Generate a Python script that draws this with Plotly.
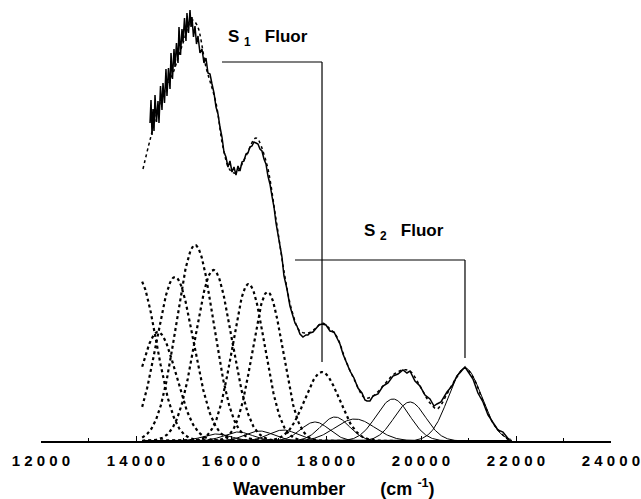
import numpy as np
import plotly.graph_objects as go

# ---------------- data ----------------
# experimental emission spectrum (wavenumber, intensity in arbitrary units)
exp_wn = [14295, 14316, 14337, 14358, 14379, 14400, 14432, 14463, 14484, 14516,
          14547, 14568, 14600, 14631, 14652, 14684, 14716, 14737, 14768, 14800,
          14821, 14852, 14884, 14905, 14937, 14968, 14989, 15021, 15052, 15073,
          15105, 15137, 15158, 15179, 15210, 15242, 15274, 15305, 15347, 15389,
          15431, 15473, 15515, 15558, 15600, 15642, 15684, 15726, 15768, 15810,
          15852, 15894, 15936, 15978, 16021, 16063, 16105, 16147, 16189, 16231,
          16273, 16315, 16357, 16399, 16441, 16484, 16526, 16568, 16610, 16652,
          16694, 16736, 16778, 16820, 16862, 16905, 16947, 16989, 17031, 17073,
          17115, 17178, 17241, 17284, 17347, 17389, 17452, 17515, 17578, 17620,
          17662, 17726, 17789, 17852, 17915, 18000, 18084, 18168, 18231, 18294,
          18357, 18420, 18505, 18589, 18673, 18757, 18820, 18862, 18925, 18989,
          19094, 19200, 19305, 19410, 19515, 19620, 19704, 19768, 19873, 19978,
          20084, 20189, 20273, 20336, 20420, 20547, 20652, 20757, 20841, 20926,
          21010, 21094, 21199, 21305, 21410, 21515, 21620, 21726, 21831, 21873]
exp_int = [318, 341, 306, 332, 310, 346, 319, 340, 318, 355,
           331, 358, 338, 372, 345, 373, 352, 388, 362, 392,
           374, 398, 378, 414, 386, 412, 399, 423, 400, 428,
           408, 431, 414, 424, 404, 415, 397, 405, 388, 392,
           378, 383, 368, 367, 357, 348, 334, 327, 314, 304,
           289, 284, 274, 280, 269, 274, 266, 275, 270, 279,
           280, 287, 288, 294, 295, 299, 298, 297, 292, 290,
           282, 277, 265, 257, 245, 234, 218, 207, 192, 184,
           165, 152, 135, 129, 118, 115, 107, 104, 106, 106,
           108, 109, 112, 116, 117, 116, 110, 109, 103, 97,
           87, 80, 70, 63, 53, 48, 41, 40, 40, 45,
           47, 55, 58, 65, 67, 71, 68, 70, 60, 55,
           46, 42, 35, 37, 39, 49, 55, 65, 69, 74,
           68, 62, 48, 39, 26, 19, 11, 9, 3, 0]

# total fit (dotted)
fit_wn = [14147, 14295, 14505, 14779, 14989, 15179, 15284, 15473, 15684, 15831,
          15978, 16105, 16315, 16526, 16736, 16947, 17115, 17284, 17452, 17620,
          17789, 17915, 18084, 18231, 18420, 18589, 18820, 18989, 19200, 19410,
          19620, 19768, 19978, 20189, 20336, 20420, 20547, 20757, 20926, 21094,
          21305, 21515, 21726, 21873]
fit_int = [272, 301, 338, 368, 398, 421, 416, 374, 338, 294,
           271, 268, 285, 303, 280, 222, 170, 130, 110, 108,
           113, 118, 112, 104, 80, 62, 43, 45, 55, 66,
           71, 70, 55, 38, 32, 36, 47, 64, 73, 64,
           40, 18, 6, 0]

# S1 vibronic components (dotted Gaussians): centre, height, width (sigma)
s1_center = [14050, 14463, 14821, 15242, 15630, 16370, 16770, 17916]
s1_height = [163, 109, 164, 196, 171, 157, 149, 69]
s1_sigma = [380, 380, 390, 390, 380, 340, 320, 360]

# S2 vibronic components (solid Gaussians): centre, height, width (sigma)
s2_center = [15700, 16150, 16600, 17100, 17768, 18190, 18610, 19410, 19768, 20926]
s2_height = [7, 9, 10, 11, 19, 24, 22, 42, 39, 73]
s2_sigma = [300, 300, 300, 300, 300, 300, 420, 350, 330, 350]

component_range = [14130, 21900]

tick_values = [12000, 14000, 16000, 18000, 20000, 22000, 24000]
tick_labels = ["12000", "14000", "16000", "18000", "20000", "22000", "24000"]

# ---------------- figure ----------------
FONT = "Liberation Sans, Arial, Helvetica, sans-serif"
fig = go.Figure()

grid = np.linspace(component_range[0], component_range[1], 600)

def gauss(c, h, s):
    return h * np.exp(-((grid - c) ** 2) / (2.0 * s ** 2))

for c, h, s in zip(s2_center, s2_height, s2_sigma):
    fig.add_trace(go.Scatter(x=grid, y=gauss(c, h, s), mode="lines",
                             line=dict(color="black", width=1),
                             hoverinfo="skip", showlegend=False))

for c, h, s in zip(s1_center, s1_height, s1_sigma):
    fig.add_trace(go.Scatter(x=grid, y=gauss(c, h, s), mode="lines",
                             line=dict(color="black", width=2.2, dash="dot"),
                             hoverinfo="skip", showlegend=False))

fig.add_trace(go.Scatter(x=fit_wn, y=fit_int, mode="lines",
                         line=dict(color="black", width=1.5, dash="dot", shape="spline"),
                         showlegend=False))
fig.add_trace(go.Scatter(x=exp_wn, y=exp_int, mode="lines",
                         line=dict(color="black", width=1.5),
                         showlegend=False))

# brackets marking the S1 and S2 fluorescence origins
s1_origin = s1_center[-1]
s2_origin = s2_center[-1]
bracket_style = dict(color="black", width=1.2)
fig.add_shape(type="line", x0=15810, x1=s1_origin, y0=379, y1=379, line=bracket_style)
fig.add_shape(type="line", x0=s1_origin, x1=s1_origin, y0=379, y1=79, line=bracket_style)
fig.add_shape(type="line", x0=17347, x1=s2_origin, y0=181, y1=181, line=bracket_style)
fig.add_shape(type="line", x0=s2_origin, x1=s2_origin, y0=181, y1=83, line=bracket_style)

NB = "\u00a0"
fig.add_annotation(x=15900, y=403, xref="x", yref="y", xanchor="left", yanchor="middle",
                   text="<b>S" + NB + "<sub>1</sub>" + NB * 3 + "Fluor</b>",
                   showarrow=False, font=dict(family=FONT, size=17, color="black"))
fig.add_annotation(x=18760, y=209, xref="x", yref="y", xanchor="left", yanchor="middle",
                   text="<b>S" + NB + "<sub>2</sub>" + NB * 3 + "Fluor</b>",
                   showarrow=False, font=dict(family=FONT, size=17, color="black"))

# axis title
fig.add_annotation(x=0.514, y=-0.106, xref="paper", yref="paper", xanchor="center",
                   yanchor="middle",
                   text="<b>Wavenumber" + NB * 7 + "(cm" + NB + "<sup>-1</sup>)</b>",
                   showarrow=False, font=dict(family=FONT, size=18, color="black"))

fig.update_layout(
    width=641, height=499,
    margin=dict(l=41, r=30, t=0, b=58, pad=0),
    paper_bgcolor="white", plot_bgcolor="white",
    xaxis=dict(range=[12000, 24000], showgrid=False, zeroline=False,
               showline=True, linecolor="black", linewidth=1.5,
               ticks="inside", ticklen=5, tickwidth=1, tickcolor="black",
               tickvals=tick_values, ticktext=[" ".join(t) for t in tick_labels],
               tickfont=dict(family=FONT, size=15, color="black", weight="bold"),
               ticklabelstandoff=5,
               minor=dict(dtick=1000, ticks="inside", ticklen=3, tickcolor="black",
                          showgrid=False)),
    yaxis=dict(range=[0, 441], visible=False, showgrid=False, zeroline=False),
)

fig.write_html("out.html", config={"displayModeBar": False},
               post_script="document.body.style.margin='0px';"
                           "document.body.style.overflow='hidden';")
